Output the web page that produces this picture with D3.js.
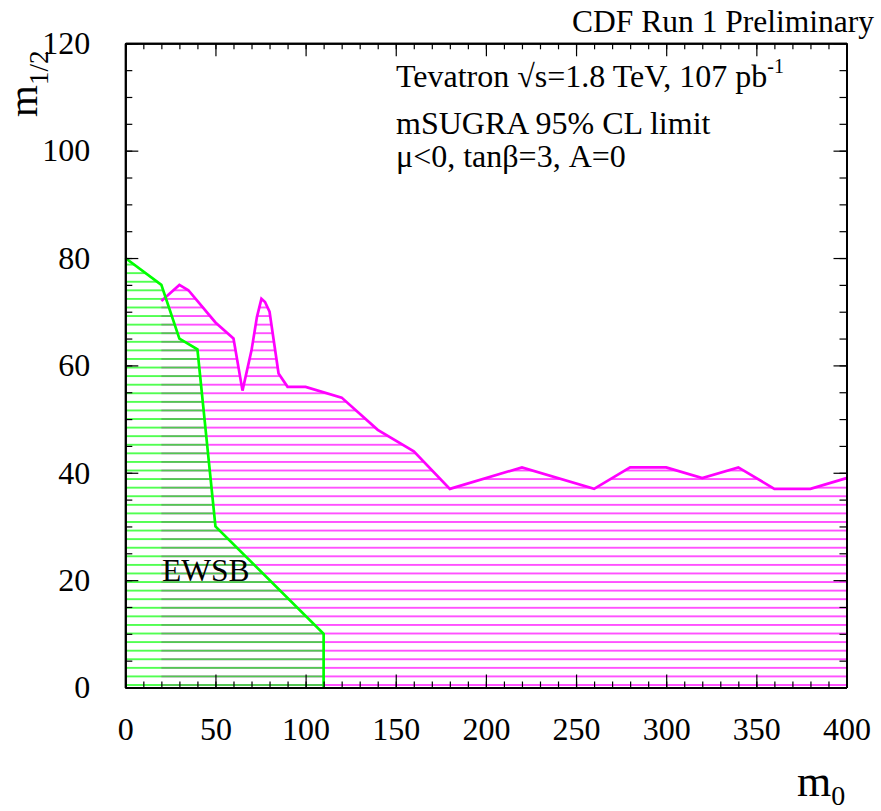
<!DOCTYPE html>
<html>
<head>
<meta charset="utf-8">
<script src="https://cdn.jsdelivr.net/npm/d3@7"></script>
<style>
  body { margin: 0; background: #fff; }
  svg { display: block; }
  text { font-family: "Liberation Serif", "Times New Roman", serif; fill: #000; }
</style>
</head>
<body>
<div id="chart"></div>
<script>
// ---- data ----
const limitM0   = [20, 30, 35, 50, 60, 65, 70, 73, 75.5, 77.5, 80, 85, 90, 100, 120, 140, 160, 180, 220, 260, 280, 300, 320, 340, 360, 380, 400];
const limitM12  = [72, 75, 74, 68, 65, 55.3, 62.8, 69, 72.4, 71.8, 70, 58.5, 56, 56, 54, 48, 44, 37, 41, 37, 41, 41, 39, 41, 37, 37, 39];
const ewsbM0    = [0, 20, 30, 40, 50, 110, 110];
const ewsbM12   = [80, 75, 65, 63, 30, 10, 0];
const xTicks    = [0, 50, 100, 150, 200, 250, 300, 350, 400];
const yTicks    = [0, 20, 40, 60, 80, 100, 120];
const infoLines = ["Tevatron √s=1.8 TeV, 107 pb", "mSUGRA 95% CL limit", "μ<0, tanβ=3, A=0"];

// ---- layout ----
const W = 881, H = 811;
const L = 125.3, R = 846.5, T = 43.3, B = 687.5;
const x = d3.scaleLinear().domain([0, 400]).range([L, R]);
const y = d3.scaleLinear().domain([0, 120]).range([B, T]);

const svg = d3.select("#chart").append("svg").attr("width", W).attr("height", H);
const defs = svg.append("defs");

function hatch(id, color) {
  const p = defs.append("pattern").attr("id", id)
    .attr("patternUnits", "userSpaceOnUse")
    .attr("x", 0).attr("y", B - 2.5).attr("width", 20).attr("height", 8.58);
  p.append("rect").attr("x", 0).attr("y", -0.65).attr("width", 20).attr("height", 1.3).attr("fill", color);
  p.append("rect").attr("x", 0).attr("y", 8.58 - 0.65).attr("width", 20).attr("height", 1.3).attr("fill", color);
}
hatch("hm", "#ff00ff");
hatch("hg", "#00ff00");

// magenta excluded region
const limitPts = limitM0.map((d, i) => [d, limitM12[i]]);
const magPoly = [[limitM0[0], 0], ...limitPts, [limitM0[limitM0.length - 1], 0]];
const line = d3.line().x(d => x(d[0])).y(d => y(d[1]));
svg.append("path").attr("d", line(magPoly) + "Z").attr("fill", "url(#hm)");

// green EWSB region
const ewsbPts = ewsbM0.map((d, i) => [d, ewsbM12[i]]);
const grnPoly = [...ewsbPts, [0, 0]];
svg.append("path").attr("d", line(grnPoly) + "Z").attr("fill", "url(#hg)");

// curves
svg.append("path").attr("d", line(limitPts)).attr("fill", "none")
  .attr("stroke", "#ff00ff").attr("stroke-width", 2.7).attr("stroke-linejoin", "miter");
svg.append("path").attr("d", line(ewsbPts)).attr("fill", "none")
  .attr("stroke", "#00ff00").attr("stroke-width", 2.7).attr("stroke-linejoin", "miter");

// ---- axes ----
function styleAxis(g) {
  g.attr("font-family", null);
  g.selectAll("path.domain").attr("stroke", "#000").attr("stroke-width", 2);
  g.selectAll(".tick line").attr("stroke", "#000").attr("stroke-width", 1.2);
  g.selectAll("text").attr("font-family", "Liberation Serif, serif").attr("font-size", 32).attr("fill", "#000");
}
const xMinor = d3.range(0, 401, 10);
const yMinor = d3.range(0, 121, 5);

// bottom
svg.append("g").attr("transform", `translate(0,${B})`)
  .call(d3.axisBottom(x).tickValues(xMinor).tickSize(-6).tickSizeOuter(0).tickFormat(""))
  .call(styleAxis);
svg.append("g").attr("transform", `translate(0,${B})`)
  .call(d3.axisBottom(x).tickValues(xTicks).tickSize(-13).tickSizeOuter(0).tickPadding(30).tickFormat(d3.format("d")))
  .call(styleAxis);
// top
svg.append("g").attr("transform", `translate(0,${T})`)
  .call(d3.axisTop(x).tickValues(xMinor).tickSize(-6).tickSizeOuter(0).tickFormat(""))
  .call(styleAxis);
svg.append("g").attr("transform", `translate(0,${T})`)
  .call(d3.axisTop(x).tickValues(xTicks).tickSize(-13).tickSizeOuter(0).tickFormat(""))
  .call(styleAxis);
// left
svg.append("g").attr("transform", `translate(${L},0)`)
  .call(d3.axisLeft(y).tickValues(yMinor).tickSize(-7).tickSizeOuter(0).tickFormat(""))
  .call(styleAxis);
svg.append("g").attr("transform", `translate(${L},0)`)
  .call(d3.axisLeft(y).tickValues(yTicks).tickSize(-13).tickSizeOuter(0).tickPadding(35).tickFormat(d3.format("d")))
  .call(styleAxis);
// right
svg.append("g").attr("transform", `translate(${R},0)`)
  .call(d3.axisRight(y).tickValues(yMinor).tickSize(-7).tickSizeOuter(0).tickFormat(""))
  .call(styleAxis);
svg.append("g").attr("transform", `translate(${R},0)`)
  .call(d3.axisRight(y).tickValues(yTicks).tickSize(-13).tickSizeOuter(0).tickFormat(""))
  .call(styleAxis);

// ---- texts ----
svg.append("text").attr("x", 874).attr("y", 32).attr("text-anchor", "end")
  .attr("font-size", 31.5).text("CDF Run 1 Preliminary");

const info = svg.append("g").attr("font-size", 32);
const t1 = info.append("text").attr("x", 396).attr("y", 87);
t1.append("tspan").text(infoLines[0]);
t1.append("tspan").attr("font-size", 20).attr("dy", -14).text("-1");
info.append("text").attr("x", 396).attr("y", 134).text(infoLines[1]);
info.append("text").attr("x", 396).attr("y", 167).text(infoLines[2]);

svg.append("text").attr("x", 162).attr("y", 581).attr("font-size", 31.5).text("EWSB");

// axis titles
const xt = svg.append("text").attr("x", 797).attr("y", 796).attr("font-size", 44);
xt.append("tspan").text("m");
xt.append("tspan").attr("font-size", 28).attr("dy", 9).text("0");

const yt = svg.append("text").attr("transform", "translate(37,117) rotate(-90)").attr("font-size", 41);
yt.append("tspan").text("m");
yt.append("tspan").attr("font-size", 27).attr("dy", 11).text("1/2");
</script>
</body>
</html>
